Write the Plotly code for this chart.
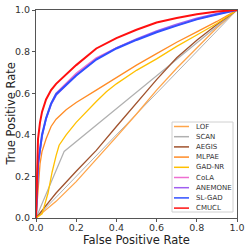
import plotly.graph_objects as go

# ---------------- data ----------------
fpr_grid = [0, 0.005, 0.01, 0.02, 0.03, 0.05, 0.075, 0.1, 0.15, 0.2, 0.3, 0.4, 0.5, 0.6, 0.7, 0.8, 0.9, 1.0]

cmucl_tpr = [0, 0.28, 0.38, 0.46, 0.51, 0.57, 0.615, 0.645, 0.69, 0.735, 0.815, 0.865, 0.905, 0.94, 0.962, 0.98, 0.993, 1.0]
slgad_tpr = [0, 0.17, 0.26, 0.33, 0.40, 0.48, 0.55, 0.595, 0.64, 0.685, 0.762, 0.815, 0.856, 0.893, 0.925, 0.955, 0.978, 1.0]
cola_tpr = [0, 0.17, 0.26, 0.33, 0.40, 0.48, 0.55, 0.60, 0.65, 0.695, 0.770, 0.818, 0.858, 0.895, 0.927, 0.957, 0.980, 1.0]
anemone_tpr = [0, 0.16, 0.25, 0.32, 0.39, 0.475, 0.545, 0.59, 0.64, 0.685, 0.764, 0.818, 0.861, 0.899, 0.932, 0.961, 0.983, 1.0]
mlpae_tpr = [0, 0.08, 0.15, 0.26, 0.32, 0.38, 0.44, 0.475, 0.52, 0.555, 0.615, 0.675, 0.735, 0.79, 0.845, 0.895, 0.945, 1.0]

gadnr_fpr = [0, 0.03, 0.06, 0.08, 0.10, 0.115, 0.15, 0.2, 0.3, 0.35, 0.4, 0.5, 0.6, 0.7, 0.8, 0.9, 1.0]
gadnr_tpr = [0, 0.02, 0.12, 0.22, 0.30, 0.35, 0.40, 0.46, 0.56, 0.607, 0.645, 0.71, 0.765, 0.825, 0.88, 0.935, 1.0]

scan_fpr = [0, 0.14, 1.0]
scan_tpr = [0, 0.32, 1.0]

rate_grid = [0, 0.1, 0.2, 0.3, 0.4, 0.5, 0.6, 0.7, 0.8, 0.9, 1.0]
aegis_tpr = [0, 0.12, 0.225, 0.325, 0.44, 0.555, 0.665, 0.77, 0.855, 0.93, 1.0]
lof_tpr = [0, 0.08, 0.175, 0.28, 0.39, 0.50, 0.615, 0.72, 0.82, 0.915, 1.0]

chance_line = [0, 1.0]

tick_vals = [0, 0.2, 0.4, 0.6, 0.8, 1.0]
tick_text = ["0.0", "0.2", "0.4", "0.6", "0.8", "1.0"]

legend_names = ["LOF", "SCAN", "AEGIS", "MLPAE", "GAD-NR", "CoLA", "ANEMONE", "SL-GAD", "CMUCL"]
colors = {
    "LOF": "#ffa54a",
    "SCAN": "#b0b0b0",
    "AEGIS": "#a0522d",
    "MLPAE": "#ff8c26",
    "GAD-NR": "#ffc000",
    "CoLA": "#ee6fd0",
    "ANEMONE": "#9f5ff0",
    "SL-GAD": "#3050ff",
    "CMUCL": "#ff1010",
}
widths = {"LOF": 1.3, "SCAN": 1.2, "AEGIS": 1.3, "MLPAE": 1.3, "GAD-NR": 1.3,
          "CoLA": 1.5, "ANEMONE": 1.5, "SL-GAD": 2.0, "CMUCL": 2.0}

series = {
    "LOF": (rate_grid, lof_tpr),
    "SCAN": (scan_fpr, scan_tpr),
    "AEGIS": (rate_grid, aegis_tpr),
    "MLPAE": (fpr_grid, mlpae_tpr),
    "GAD-NR": (gadnr_fpr, gadnr_tpr),
    "CoLA": (fpr_grid, cola_tpr),
    "ANEMONE": (fpr_grid, anemone_tpr),
    "SL-GAD": (fpr_grid, slgad_tpr),
    "CMUCL": (fpr_grid, cmucl_tpr),
}

fig = go.Figure()
fig.add_trace(go.Scatter(x=chance_line, y=chance_line, mode="lines",
                         line=dict(color="#b0b0b0", width=1.0), showlegend=False, hoverinfo="skip"))
for name in legend_names:
    xs, ys = series[name]
    fig.add_trace(go.Scatter(x=xs, y=ys, mode="lines", name=name,
                             line=dict(color=colors[name], width=widths[name]),
                             showlegend=False, hoverinfo="skip"))

W = H = 249
L, R, T, B = 36, 237, 10, 218   # plot area in pixels


def px(xp):
    return (xp - L) / (R - L)


def py(yp):
    return (B - yp) / (B - T)


shapes = [dict(type="rect", xref="paper", yref="paper",
               x0=px(172), x1=px(233), y0=py(212), y1=py(122),
               line=dict(color="#d0d0d0", width=1), fillcolor="rgba(255,255,255,0.85)", layer="above")]
annotations = []
for i, name in enumerate(legend_names):
    yy = 126.5 + i * 10.2
    shapes.append(dict(type="line", xref="paper", yref="paper",
                       x0=px(174), x1=px(189), y0=py(yy), y1=py(yy),
                       line=dict(color=colors[name], width=1.5), layer="above"))
    annotations.append(dict(xref="paper", yref="paper", x=px(194), y=py(yy),
                            text=name, showarrow=False, xanchor="left", yanchor="middle",
                            font=dict(family="DejaVu Sans", size=7, color="#333333")))

annotations.append(dict(xref="paper", yref="paper", x=0.5, y=py(240), text="False Positive Rate",
                        showarrow=False, xanchor="center", yanchor="middle",
                        font=dict(family="DejaVu Sans", size=11.5, color="#222222")))
annotations.append(dict(xref="paper", yref="paper", x=px(10.5), y=0.5, text="True Positive Rate",
                        showarrow=False, xanchor="center", yanchor="middle", textangle=-90,
                        font=dict(family="DejaVu Sans", size=11.5, color="#222222")))

axis_common = dict(range=[0, 1], tickvals=tick_vals, ticktext=tick_text,
                   showgrid=False, zeroline=False, showline=True, mirror=True,
                   linecolor="#555555", linewidth=1, ticks="outside", ticklen=3,
                   tickcolor="#555555", tickwidth=1, automargin=False,
                   tickfont=dict(family="DejaVu Sans", size=9.5, color="#333333"))

fig.update_layout(
    width=W, height=H,
    margin=dict(l=L, r=W - R, t=T, b=H - B, pad=0),
    paper_bgcolor="white", plot_bgcolor="white",
    xaxis=dict(axis_common, ticklabelstandoff=-2), yaxis=axis_common,
    shapes=shapes, annotations=annotations,
    showlegend=False, hovermode=False,
)
fig.write_html("out.html", config={"displayModeBar": False},
               post_script="document.body.style.margin='0';document.documentElement.style.margin='0';document.body.style.overflow='hidden';")
